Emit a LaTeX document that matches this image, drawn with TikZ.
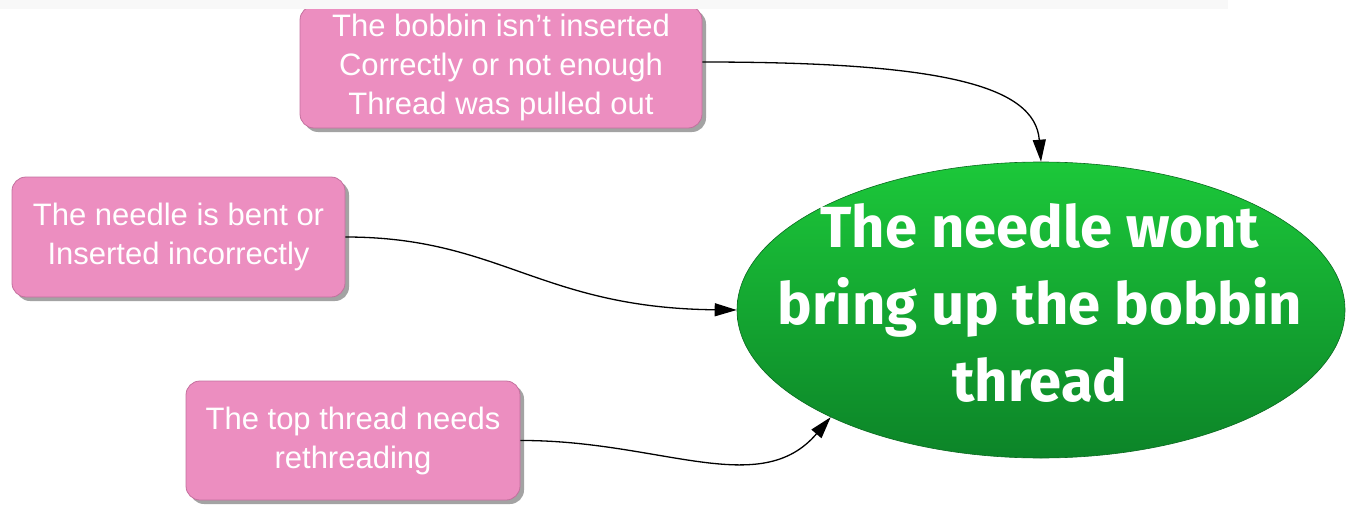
\documentclass[tikz,border=0pt]{standalone}
\usepackage{fontspec}
\setmainfont{Liberation Sans}
\newfontfamily\bigfont{Fira Sans}
\usetikzlibrary{arrows.meta,shadows,shapes.geometric}
\definecolor{pinkfill}{RGB}{236,142,192}
\definecolor{pinkdraw}{RGB}{196,112,158}
\definecolor{gtop}{RGB}{28,200,58}
\definecolor{gbot}{RGB}{12,132,40}
\definecolor{band}{RGB}{248,248,248}
\tikzset{
  cause/.style={rectangle, rounded corners=14pt, fill=pinkfill, draw=pinkdraw, line width=0.8pt,
    drop shadow={shadow xshift=4pt, shadow yshift=-4pt, fill=black!45, opacity=0.8},
    text=white, align=center, inner sep=0pt,
    font=\fontsize{31}{39}\selectfont},
  effect/.style={ellipse, top color=gtop, bottom color=gbot, draw=gbot!80!black, line width=0.6pt,
    inner sep=0pt},
  effecttext/.style={text=white, align=center, inner sep=0pt,
    font=\bigfont\bfseries\fontsize{58}{77}\selectfont},
  conn/.style={line width=1.3pt, -{Triangle[length=22pt,width=13pt]}}
}
\begin{document}
\begin{tikzpicture}[x=1pt,y=-1pt]
\useasboundingbox (0,0) rectangle (1353,506);
\node[cause, minimum width=402pt, minimum height=122pt] (b1) at (501,67)
  {The bobbin isn't inserted\\Correctly or not enough\\Thread was pulled out};
\fill[band] (0,0) rectangle (1228,9);
\node[cause, minimum width=333pt, minimum height=120pt] (b2) at (178.5,237)
  {The needle is bent or\\Inserted incorrectly};
\node[cause, minimum width=334pt, minimum height=119pt] (b3) at (353,440.5)
  {The top thread needs\\rethreading};
\node[effect, minimum width=608pt, minimum height=296pt] (e) at (1041,310) {};
\node[effecttext] (et) at (1040,303) {The needle wont\\bring up the bobbin\\thread};
\draw[conn] ([yshift=5pt]b1.east) .. controls (940,62) and (1035,85) .. (e.north);
\draw[conn] (b2.east) .. controls (500,237) and (540,308) .. (e.west);
\draw[conn] (b3.east) .. controls (660,440) and (760,500) .. (e.207);
\end{tikzpicture}
\end{document}
